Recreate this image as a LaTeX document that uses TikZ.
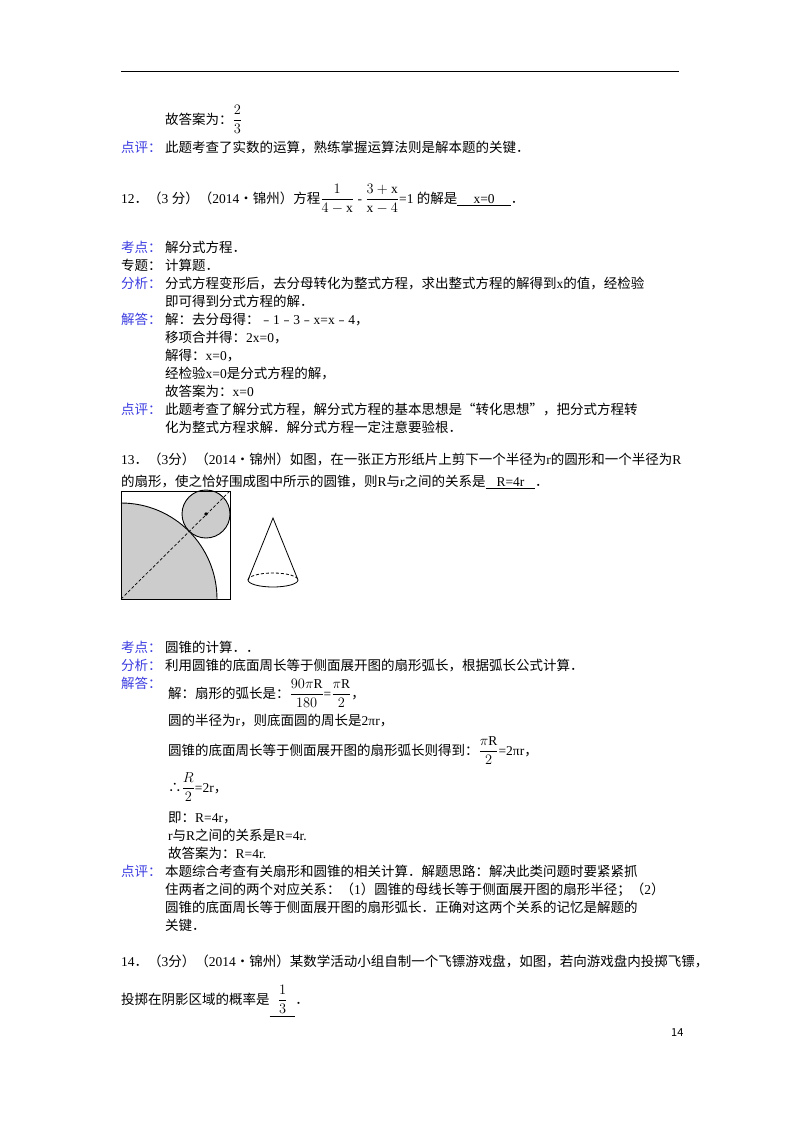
\documentclass[tikz,border=0pt]{standalone}
\usepackage{fontspec}
\usepackage{amsmath}
\setmainfont{Liberation Serif}
\newfontfamily\cjk{Noto Sans CJK SC}
\newcommand{\C}[1]{{\cjk #1}}
\definecolor{lab}{RGB}{60,60,225}
\begin{document}
\begin{tikzpicture}[x=1pt,y=-1pt,
  t/.style={anchor=base west,inner sep=0pt,font=\fontsize{13.5}{16}\selectfont},
  l/.style={t,text=lab}]
\useasboundingbox (0,0) rectangle (800,1132);
\fill[white] (0,0) rectangle (800,1132);
\draw[line width=1pt] (121,72) -- (679,72);
\node[t] (a1) at (165,124) {\C{故答案为：}$\dfrac{2}{3}$};
\node[l] (p1) at (121,152) {\C{点评：}};
\node[t] (p1t) at (165,152) {\C{此题考查了实数的运算，熟练掌握运算法则是解本题的关键．}};
\node[t] (q12) at (121,203) {12\C{．（}3 \C{分）（}2014\C{•锦州）方程}$\dfrac{1}{4-\mathrm{x}}$ - $\dfrac{3+\mathrm{x}}{\mathrm{x}-4}$=1 \C{的解是}\underline{\hspace{1.2em}x=0\hspace{1.2em}}\C{．}};
\node[l] (k2) at (121,252) {\C{考点：}};
\node[t] at (165,252) {\C{解分式方程．}};
\node[t] (z2) at (121,270) {\C{专题：}};
\node[t] at (165,270) {\C{计算题．}};
\node[l] (f2) at (121,288) {\C{分析：}};
\node[t] at (165,288) {\C{分式方程变形后，去分母转化为整式方程，求出整式方程的解得到}x\C{的值，经检验}};
\node[t] at (165,306) {\C{即可得到分式方程的解．}};
\node[l] (j2) at (121,324) {\C{解答：}};
\node[t] at (165,324) {\C{解：去分母得：﹣}1\C{﹣}3\C{﹣}x=x\C{﹣}4\C{，}};
\node[t] at (165,342) {\C{移项合并得：}2x=0\C{，}};
\node[t] at (165,360) {\C{解得：}x=0\C{，}};
\node[t] at (165,378) {\C{经检验}x=0\C{是分式方程的解，}};
\node[t] at (165,396) {\C{故答案为：}x=0};
\node[l] (p2) at (121,414) {\C{点评：}};
\node[t] at (165,414) {\C{此题考查了解分式方程，解分式方程的基本思想是“转化思想”，把分式方程转}};
\node[t] at (165,432) {\C{化为整式方程求解．解分式方程一定注意要验根．}};
\node[t] (q13) at (121,464) {13\C{．（}3\C{分）（}2014\C{•锦州）如图，在一张正方形纸片上剪下一个半径为}r\C{的圆形和一个半径为}R};
\node[t] at (121,486) {\C{的扇形，使之恰好围成图中所示的圆锥，则}R\C{与}r\C{之间的关系是}\underline{\hspace{0.8em}R=4r\hspace{0.8em}}\C{．}};
% figure
\coordinate (O) at (121,599);
\fill[gray!40] (O) -- (217,599) arc[start angle=0,end angle=-90,radius=96] -- cycle;
\draw[line width=0.9pt] (217,599) arc[start angle=0,end angle=-90,radius=96];
\node[circle,draw,line width=0.9pt,fill=gray!40,minimum size=48pt,inner sep=0pt] (sc) at (206,514) {};
\draw[line width=0.9pt] (121,491) rectangle (230,599);
\draw[densely dashed,line width=0.7pt] (O) -- (230,491);
\fill (sc.center) circle (1.8pt);
\coordinate (ap) at (273,518);
\coordinate (bl) at (248,580);
\coordinate (br) at (298,580);
\draw[line width=0.8pt] (bl) -- (ap) -- (br);
\draw[line width=0.8pt] (bl) arc[start angle=180,end angle=360,x radius=25,y radius=-7];
\draw[line width=0.8pt,densely dashed] (bl) arc[start angle=180,end angle=0,x radius=25,y radius=-7];
\node[l] (k3) at (121,652) {\C{考点：}};
\node[t] at (165,652) {\C{圆锥的计算．．}};
\node[l] (f3) at (121,670) {\C{分析：}};
\node[t] at (165,670) {\C{利用圆锥的底面周长等于侧面展开图的扇形弧长，根据弧长公式计算．}};
\node[l] (j3) at (121,688) {\C{解答：}};
\node[t] at (168,698) {\C{解：扇形的弧长是：}$\dfrac{90\pi \mathrm{R}}{180}$=$\dfrac{\pi \mathrm{R}}{2}$\C{，}};
\node[t] at (168,725) {\C{圆的半径为}r\C{，则底面圆的周长是}2πr\C{，}};
\node[t] at (168,755) {\C{圆锥的底面周长等于侧面展开图的扇形弧长则得到：}$\dfrac{\pi \mathrm{R}}{2}$=2πr\C{，}};
\node[t] at (168,792) {\C{∴}$\dfrac{R}{2}$=2r\C{，}};
\node[t] at (168,822) {\C{即：}R=4r\C{，}};
\node[t] at (168,840) {r\C{与}R\C{之间的关系是}R=4r.};
\node[t] at (168,858) {\C{故答案为：}R=4r.};
\node[l] (p3) at (121,876) {\C{点评：}};
\node[t] at (165,876) {\C{本题综合考查有关扇形和圆锥的相关计算．解题思路：解决此类问题时要紧紧抓}};
\node[t] at (165,894) {\C{住两者之间的两个对应关系：（}1\C{）圆锥的母线长等于侧面展开图的扇形半径；（}2\C{）}};
\node[t] at (165,912) {\C{圆锥的底面周长等于侧面展开图的扇形弧长．正确对这两个关系的记忆是解题的}};
\node[t] at (165,930) {\C{关键．}};
\node[t] (q14) at (121,966) {14\C{．（}3\C{分）（}2014\C{•锦州）某数学活动小组自制一个飞镖游戏盘，如图，若向游戏盘内投掷飞镖，}};
\node[t] at (121,1004) {\C{投掷在阴影区域的概率是}\underline{\hspace{0.6em}$\dfrac{1}{3}$\hspace{0.6em}}\C{．}};
\node[t,font=\fontsize{11}{13}\selectfont\cjk] (pg) at (671,1036) {14};
\end{tikzpicture}
\end{document}
